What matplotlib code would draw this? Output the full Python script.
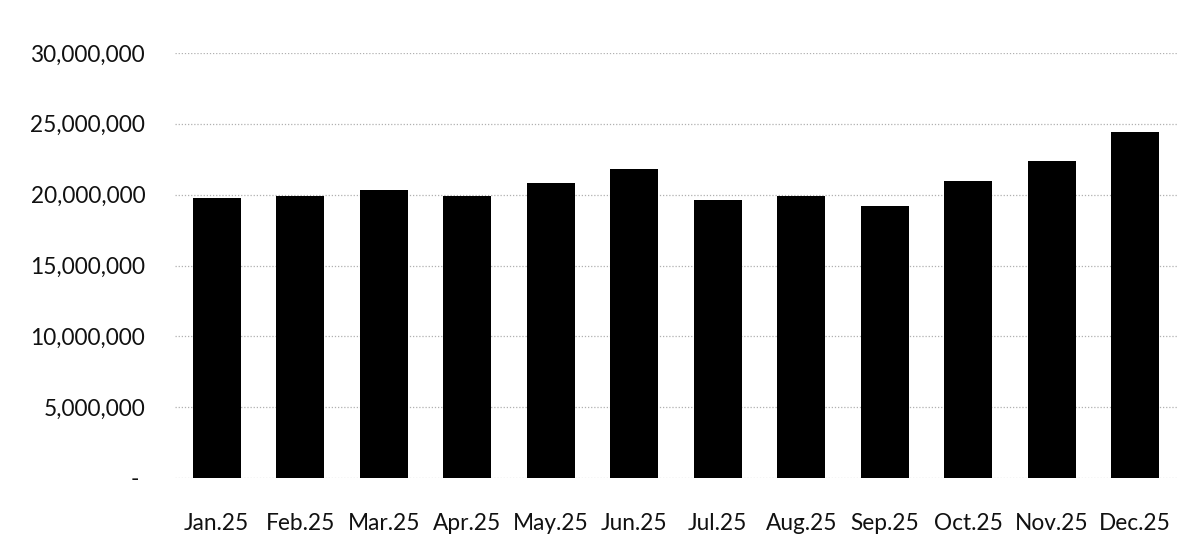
import matplotlib.pyplot as plt
from matplotlib.ticker import FuncFormatter, MultipleLocator

months = ["Jan.25", "Feb.25", "Mar.25", "Apr.25", "May.25", "Jun.25",
          "Jul.25", "Aug.25", "Sep.25", "Oct.25", "Nov.25", "Dec.25"]
values = [19.8e6, 19.9e6, 20.35e6, 19.9e6, 20.8e6, 21.8e6,
          19.6e6, 19.9e6, 19.2e6, 21.0e6, 22.4e6, 24.4e6]

plt.rcParams['font.family'] = ['Lato', 'DejaVu Sans']

fig = plt.figure(figsize=(11.86, 5.56), dpi=100)
ax = fig.add_axes([175 / 1186, 1 - 478 / 556, 1002 / 1186, 425 / 556])

x = range(len(months))
ax.bar(x, values, width=0.57, color='black', zorder=3)

ax.set_ylim(0, 30e6)
ax.set_xlim(-0.5, len(months) - 0.5)
ax.yaxis.set_major_locator(MultipleLocator(5e6))


def acct(v, pos):
    # excel accounting style: zero shown as a dash
    if v == 0:
        return "- "
    return f"{v:,.0f}"


ax.yaxis.set_major_formatter(FuncFormatter(acct))
ax.grid(axis='y', color='#b0b0b0', linestyle=(0, (1, 1.5)), linewidth=0.9, zorder=0)

ax.set_xticks(list(x))
ax.set_xticklabels(months)
ax.tick_params(axis='both', length=0, labelsize=16.3, labelcolor='#111111')
ax.tick_params(axis='y', pad=21.5)
ax.tick_params(axis='x', pad=25.5)

for s in ax.spines.values():
    s.set_visible(False)

fig.savefig("out.png", dpi=100)
